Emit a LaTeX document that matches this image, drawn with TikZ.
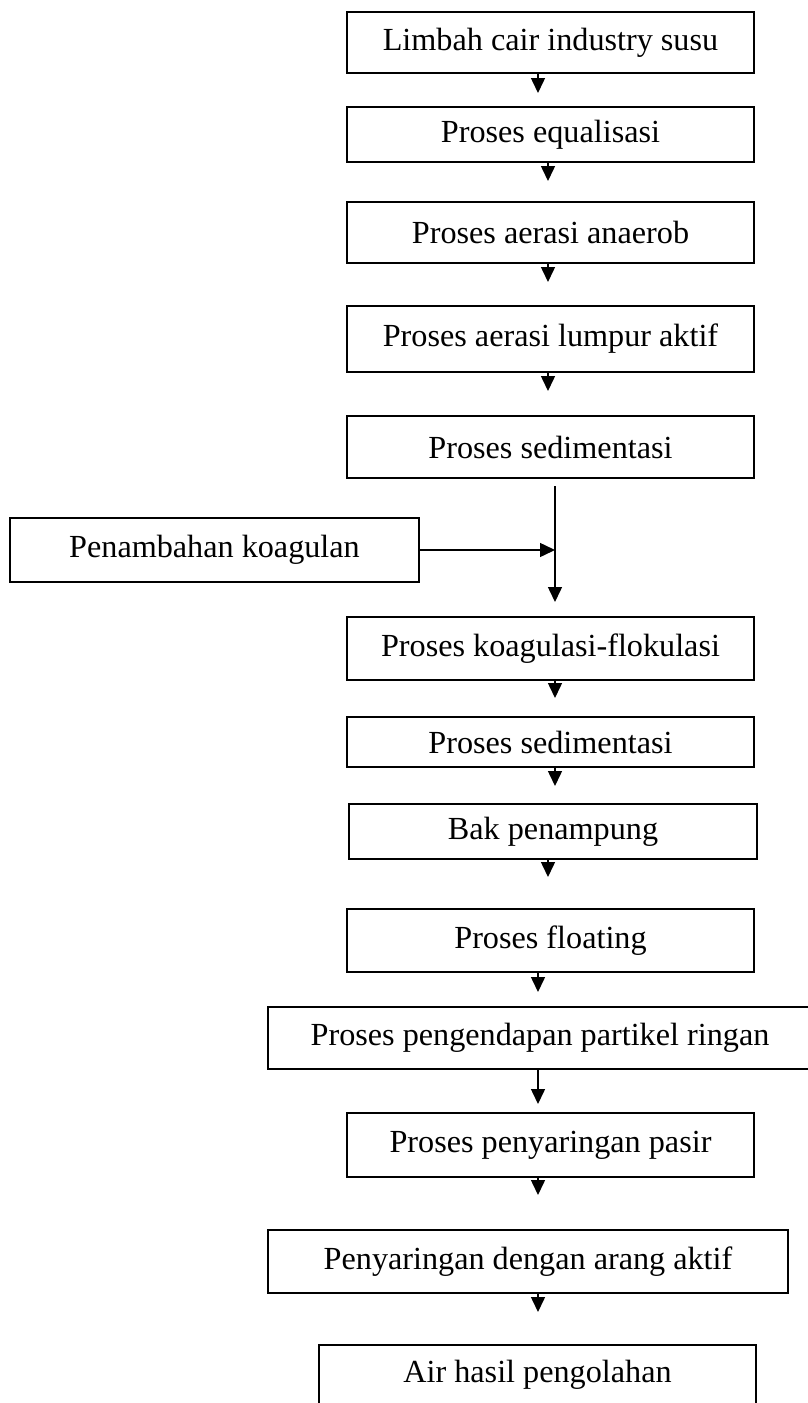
\documentclass[tikz,border=0pt]{standalone}
\usepackage{fontspec}
\setmainfont{Liberation Serif}
\usepackage{tikz}
\usetikzlibrary{arrows.meta}

\begin{document}
\begin{tikzpicture}[x=0.5pt,y=-0.5pt,
proc/.style={draw,line width=1pt,rectangle,inner sep=0pt,font=\fontsize{16.1}{19}\selectfont},
flow/.style={line width=0.75pt,-{Triangle[width=7pt,length=7.5pt]}}]
\clip (0,0) rectangle (808,1403);
% vertical axes of the arrows
\coordinate (axisA) at (538,0);
\coordinate (axisB) at (548,0);
\coordinate (axisC) at (555,0);
% boxes
\node[proc,minimum width=203.5pt,minimum height=30.5pt] (limbah) at (550.5,42.5) {Limbah cair industry susu};
\node[proc,minimum width=203.5pt,minimum height=27.5pt] (equal) at (550.5,134.5) {Proses equalisasi};
\node[proc,minimum width=203.5pt,minimum height=30.5pt] (anaerob) at (550.5,232.5) {Proses aerasi anaerob};
\node[proc,minimum width=203.5pt,minimum height=33pt] (lumpur) at (550.5,339) {Proses aerasi lumpur aktif};
\node[proc,minimum width=203.5pt,minimum height=31pt] (sedA) at (550.5,447) {Proses sedimentasi};
\node[proc,minimum width=204.5pt,minimum height=32pt] (koagulan) at (214.5,550) {Penambahan koagulan};
\node[proc,minimum width=203.5pt,minimum height=31.5pt] (flok) at (550.5,648.5) {Proses koagulasi-flokulasi};
\node[proc,minimum width=203.5pt,minimum height=25pt] (sedB) at (550.5,742) {Proses sedimentasi};
\node[proc,minimum width=204pt,minimum height=27.5pt] (bak) at (553,831.5) {Bak penampung};
\node[proc,minimum width=203.5pt,minimum height=31.5pt] (float) at (550.5,940.5) {Proses floating};
\node[proc,minimum width=272pt,minimum height=31pt] (ringan) at (540,1038) {Proses pengendapan partikel ringan};
\node[proc,minimum width=203.5pt,minimum height=32pt] (pasir) at (550.5,1145) {Proses penyaringan pasir};
\node[proc,minimum width=260pt,minimum height=31.5pt] (arang) at (528,1261.5) {Penyaringan dengan arang aktif};
\node[proc,minimum width=218.5pt,minimum height=30pt] (air) at (537.5,1375) {Air hasil pengolahan};
% arrows
\draw[flow,shorten >=6.5pt] (limbah.south -| axisA) -- (equal.north -| axisA);
\draw[flow,shorten >=10pt] (equal.south -| axisB) -- (anaerob.north -| axisB);
\draw[flow,shorten >=11.5pt] (anaerob.south -| axisB) -- (lumpur.north -| axisB);
\draw[flow,shorten >=12pt] (lumpur.south -| axisB) -- (sedA.north -| axisB);
\draw[flow,shorten <=3.5pt,shorten >=7pt] (sedA.south -| axisC) -- (flok.north -| axisC);
\draw[flow] (koagulan.east) -- (koagulan.east -| axisC);
\draw[flow,shorten >=9pt] (flok.south -| axisC) -- (sedB.north -| axisC);
\draw[flow,shorten >=8.5pt] (sedB.south -| axisC) -- (bak.north -| axisC);
\draw[flow,shorten >=15.5pt] (bak.south -| axisB) -- (float.north -| axisB);
\draw[flow,shorten >=7pt] (float.south -| axisA) -- (ringan.north -| axisA);
\draw[flow,shorten >=4pt] (ringan.south -| axisA) -- (pasir.north -| axisA);
\draw[flow,shorten >=17pt] (pasir.south -| axisA) -- (arang.north -| axisA);
\draw[flow,shorten >=16pt] (arang.south -| axisA) -- (air.north -| axisA);
\end{tikzpicture}
\end{document}
